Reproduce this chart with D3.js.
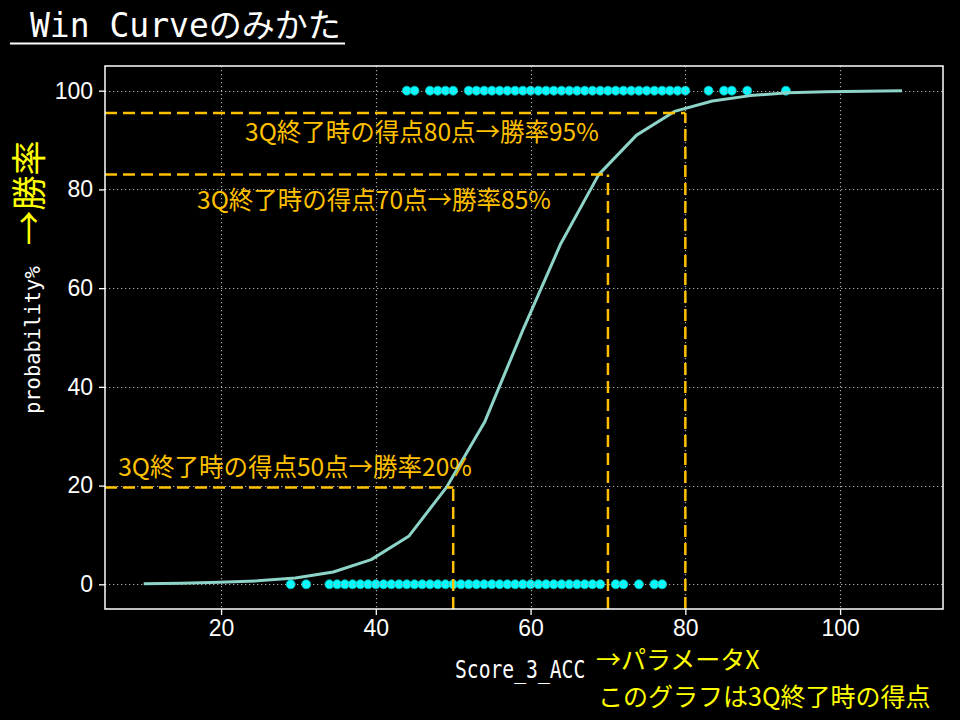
<!DOCTYPE html>
<html>
<head>
<meta charset="utf-8">
<script src="https://cdn.jsdelivr.net/npm/d3@7"></script>
<style>
  html, body { margin: 0; padding: 0; background: #000; }
  svg { display: block; }
</style>
</head>
<body>
<script>
// ---- data ----
const curveX = [10, 14.9, 19.8, 24.7, 29.6, 34.5, 39.4, 44.3, 49.2, 54.1, 59.0, 63.9, 68.8, 73.7, 78.6, 83.5, 88.4, 93.3, 98.2, 103.1, 108];
const curveY = [0.1, 0.2, 0.4, 0.7, 1.3, 2.5, 5.0, 9.8, 19.8, 33.0, 51.5, 69.0, 83.0, 91.0, 95.8, 97.9, 99.0, 99.6, 99.8, 99.9, 100.0];
const winScores = [44, 45, 47, 48, 49, 50, 52, 53, 54, 55, 56, 57, 58, 59, 60, 61, 62, 63, 64, 65, 66, 67, 68, 69, 70, 71, 72, 73, 74, 75, 76, 77, 78, 79, 80, 83, 85, 86, 88, 93];
const loseScores = [29, 31, 34, 35, 36, 37, 38, 39, 40, 41, 42, 43, 44, 45, 46, 47, 48, 49, 50, 51, 52, 53, 54, 55, 56, 57, 58, 59, 60, 61, 62, 63, 64, 65, 66, 67, 68, 69, 71, 72, 74, 76, 77];
const guideX = [50, 70, 80];
const guideY = [19.6, 83.0, 95.5];
const noteLabels = ["3Q終了時の得点50点→勝率20%", "3Q終了時の得点70点→勝率85%", "3Q終了時の得点80点→勝率95%"];
const noteX = [6.7, 16.9, 23.1];
const noteY = [24.1, 78.1, 91.9];
const xTicks = [20, 40, 60, 80, 100];
const yTicks = [0, 20, 40, 60, 80, 100];
const titleText = "Win Curveのみかた";
const xLabel = "Score_3_ACC";
const yLabel = "probability%";
const yNote = "→勝率";
const xNoteLines = ["→パラメータX", "このグラフは3Q終了時の得点"];

// ---- layout ----
const W = 960, H = 720;
const L = 105, R = 943, T = 66, B = 609;
const ORANGE = "#ffc000";
const monoFont = "'DejaVu Sans Mono', 'Noto Sans CJK JP', monospace";
const cjkFont = "'Noto Sans CJK JP', 'Noto Sans', sans-serif";

const svg = d3.select("body").append("svg").attr("width", W).attr("height", H)
  .style("background", "#000");
svg.append("rect").attr("width", W).attr("height", H).attr("fill", "#000");

const x = d3.scaleLinear().domain([5.0, 113.3]).range([L, R]);
const y = d3.scaleLinear().domain([-5, 105]).range([B, T]);

svg.append("defs").append("clipPath").attr("id", "plotclip")
  .append("rect").attr("x", L).attr("y", T).attr("width", R - L).attr("height", B - T);

const plot = svg.append("g").attr("clip-path", "url(#plotclip)");

// scatter dots
const dots = plot.append("g");
dots.selectAll("circle.win").data(winScores).join("circle")
  .attr("class", "win")
  .attr("cx", d => x(d)).attr("cy", y(100)).attr("r", 4.5)
  .attr("fill", "#00ffff").attr("stroke", "#00b4b4").attr("stroke-width", 0.8);
dots.selectAll("circle.lose").data(loseScores).join("circle")
  .attr("class", "lose")
  .attr("cx", d => x(d)).attr("cy", y(0)).attr("r", 4.5)
  .attr("fill", "#00ffff").attr("stroke", "#00b4b4").attr("stroke-width", 0.8);

// grid
const grid = plot.append("g").attr("stroke", "#a8a8a8").attr("stroke-width", 1.2)
  .attr("stroke-dasharray", "1.3,2.7");
grid.selectAll("line.gx").data(xTicks).join("line").attr("class", "gx")
  .attr("x1", d => Math.round(x(d)) + 0.5).attr("x2", d => Math.round(x(d)) + 0.5)
  .attr("y1", T).attr("y2", B);
grid.selectAll("line.gy").data(yTicks).join("line").attr("class", "gy")
  .attr("y1", d => Math.round(y(d)) + 0.5).attr("y2", d => Math.round(y(d)) + 0.5)
  .attr("x1", L).attr("x2", R);

// curve
const pts = curveX.map((v, i) => [v, curveY[i]]);
plot.append("path").datum(pts)
  .attr("d", d3.line().x(d => x(d[0])).y(d => y(d[1])))
  .attr("fill", "none").attr("stroke", "#8dd3c7").attr("stroke-width", 3)
  .attr("stroke-linejoin", "round").attr("stroke-linecap", "butt");

// guide dashed lines
const guides = plot.append("g").attr("stroke", ORANGE).attr("stroke-width", 2.5)
  .attr("stroke-dasharray", "12,6").attr("fill", "none");
guideX.forEach((gx, i) => {
  guides.append("line")
    .attr("x1", x(5.0)).attr("x2", x(gx)).attr("y1", y(guideY[i])).attr("y2", y(guideY[i]));
  guides.append("line")
    .attr("x1", x(gx)).attr("x2", x(gx)).attr("y1", y(-5)).attr("y2", y(guideY[i]));
});

// annotations
noteLabels.forEach((t, i) => {
  svg.append("text").text(t)
    .attr("x", x(noteX[i])).attr("y", y(noteY[i]))
    .attr("dominant-baseline", "central")
    .attr("font-family", cjkFont).attr("font-size", 24.5)
    .attr("fill", ORANGE);
});

// frame
svg.append("rect").attr("x", L).attr("y", T).attr("width", R - L).attr("height", B - T)
  .attr("fill", "none").attr("stroke", "#fff").attr("stroke-width", 1.5);

// axes
const xAxis = svg.append("g").attr("transform", `translate(0,${B})`)
  .call(d3.axisBottom(x).tickValues(xTicks).tickSize(6).tickPadding(5).tickFormat(d3.format("d")));
const yAxis = svg.append("g").attr("transform", `translate(${L},0)`)
  .call(d3.axisLeft(y).tickValues(yTicks).tickSize(6).tickPadding(6).tickFormat(d3.format("d")));
[xAxis, yAxis].forEach(a => {
  a.select(".domain").remove();
  a.selectAll(".tick line").attr("stroke", "#fff").attr("stroke-width", 1.3);
  a.selectAll(".tick text").attr("fill", "#fff")
    .attr("font-family", "'Liberation Sans', Arial, sans-serif").attr("font-size", 23);
});

// title
svg.append("text").text(titleText)
  .attr("x", 30).attr("y", 37)
  .attr("font-family", monoFont).attr("font-size", 33).attr("fill", "#fff");
svg.append("line").attr("x1", 10).attr("x2", 345).attr("y1", 43.5).attr("y2", 43.5)
  .attr("stroke", "#fff").attr("stroke-width", 2.2);

// axis labels (narrow gothic look: monospace squeezed horizontally)
svg.append("text").text(xLabel)
  .attr("transform", "translate(455,678) scale(0.82,1)")
  .attr("font-family", monoFont).attr("font-size", 24).attr("fill", "#fff");
svg.append("text").text(yLabel)
  .attr("transform", "translate(40,414) rotate(-90) scale(0.93,1)")
  .attr("font-family", monoFont).attr("font-size", 22).attr("fill", "#fff");

// yellow notes
svg.append("text").text(yNote)
  .attr("transform", "translate(26,193) rotate(-90)")
  .attr("text-anchor", "middle").attr("dominant-baseline", "central")
  .attr("font-family", cjkFont).attr("font-size", 35).attr("fill", "#ffff00");
svg.append("text").text(xNoteLines[0]).attr("x", 596).attr("y", 669)
  .attr("font-family", cjkFont).attr("font-size", 25).attr("fill", "#ffff00");
svg.append("text").text(xNoteLines[1]).attr("x", 598).attr("y", 706)
  .attr("font-family", cjkFont).attr("font-size", 25).attr("fill", "#ffff00");
</script>
</body>
</html>
